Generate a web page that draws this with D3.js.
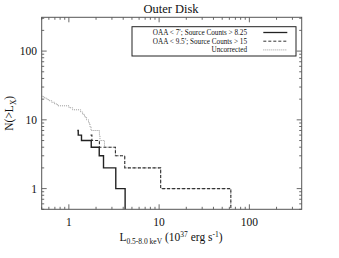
<!DOCTYPE html>
<html>
<head>
<meta charset="utf-8">
<script src="https://cdn.jsdelivr.net/npm/d3@7"></script>
<style>
    body { margin: 0; background: #fff; }
    text { font-family: "Liberation Serif", "DejaVu Serif", serif; fill: #111; }
</style>
</head>
<body>
<svg id="chart" width="339" height="258"></svg>
<script>
// luminosity thresholds (10^37 erg/s) and cumulative counts N(>L)
const solidL = [1.24, 1.27, 1.38, 1.77, 2.17, 2.42, 3.31, 4.2];
const solidN = [7, 6, 5, 4, 3, 2, 1, 0];

const dashedL = [1.74, 1.8, 2.18, 3.28, 4.16, 10.4, 62.3];
const dashedN = [6, 5, 4, 3, 2, 1, 0];

const dottedL = [0.45, 0.525, 0.56, 0.597, 0.644, 0.695, 0.75, 1.005, 1.10, 1.35, 1.42, 1.49,
    1.57, 1.65, 1.71, 1.76, 2.18, 2.21, 2.48, 3.28, 4.16, 10.4, 62.3];
const dottedN = [22, 21, 20, 19, 18, 17, 16, 15, 14, 13, 12, 11, 10, 9, 8, 7, 6, 5, 4, 3, 2, 1, 0];

const legendLabels = ["OAA < 7\u2032; Source Counts > 8.25", "OAA < 9.5\u2032; Source Counts > 15", "Uncorrected"];
const xTicks = [1, 10, 100];
const yTicks = [1, 10, 100];

const xDomain = [0.5, 380];
const yDomain = [0.5, 310];

const plotLeft = 41.7, plotRight = 301.7, plotTop = 17.3, plotBottom = 209.3;

const svg = d3.select("#chart");

const x = d3.scaleLog().domain(xDomain).range([plotLeft, plotRight]);
const y = d3.scaleLog().domain(yDomain).range([plotBottom, plotTop]);

svg.append("defs").append("clipPath")
    .attr("id", "plotClip")
    .append("rect")
    .attr("x", plotLeft)
    .attr("y", plotTop)
    .attr("width", plotRight - plotLeft)
    .attr("height", plotBottom - plotTop);

// minor + major log ticks for all four sides
function minorTicks(domain) {
    const out = [];
    for (let dec = -1; dec <= 3; dec++) {
        for (let m = 1; m < 10; m++) {
            const v = m * Math.pow(10, dec);
            if (v >= domain[0] && v <= domain[1]) out.push(v);
        }
    }
    return out;
}

const xMinor = minorTicks(xDomain);
const yMinor = minorTicks(yDomain);
const tickG = svg.append("g").attr("stroke", "#444").attr("stroke-width", 0.8);

xMinor.forEach(function(v) {
    const len = xTicks.includes(v) ? 5 : 2.5;
    tickG.append("line").attr("x1", x(v)).attr("x2", x(v)).attr("y1", plotBottom).attr("y2", plotBottom - len);
    tickG.append("line").attr("x1", x(v)).attr("x2", x(v)).attr("y1", plotTop).attr("y2", plotTop + len);
});
yMinor.forEach(function(v) {
    const len = yTicks.includes(v) ? 5 : 2.5;
    tickG.append("line").attr("y1", y(v)).attr("y2", y(v)).attr("x1", plotLeft).attr("x2", plotLeft + len);
    tickG.append("line").attr("y1", y(v)).attr("y2", y(v)).attr("x1", plotRight).attr("x2", plotRight - len);
});

// tick labels
svg.append("g").selectAll("text")
    .data(xTicks)
    .join("text")
    .attr("x", d => x(d))
    .attr("y", 225.5)
    .attr("text-anchor", "middle")
    .attr("font-size", 11.5)
    .text(d => d);

svg.append("g").selectAll("text")
    .data(yTicks)
    .join("text")
    .attr("x", 37)
    .attr("y", d => y(d) + 4)
    .attr("text-anchor", "end")
    .attr("font-size", 11.5)
    .text(d => d);

// step curves
function toPoints(Ls, Ns) {
    return Ls.map((L, i) => ({ L: L, n: Ns[i] }));
}

const stepLine = d3.line()
    .x(d => x(d.L))
    .y(d => d.n > 0 ? y(d.n) : plotBottom + 2)
    .curve(d3.curveStepAfter);

const curves = svg.append("g").attr("clip-path", "url(#plotClip)").attr("fill", "none");

curves.append("path")
    .attr("d", stepLine(toPoints(dottedL, dottedN)))
    .attr("stroke", "#999")
    .attr("stroke-width", 1)
    .attr("stroke-dasharray", "1,1");

curves.append("path")
    .attr("d", stepLine(toPoints(dashedL, dashedN)))
    .attr("stroke", "#333")
    .attr("stroke-width", 1.1)
    .attr("stroke-dasharray", "3,2");

curves.append("path")
    .attr("d", stepLine(toPoints(solidL, solidN)))
    .attr("stroke", "#222")
    .attr("stroke-width", 1.4);

// frame
svg.append("rect")
    .attr("x", plotLeft)
    .attr("y", plotTop)
    .attr("width", plotRight - plotLeft)
    .attr("height", plotBottom - plotTop)
    .attr("fill", "none")
    .attr("stroke", "#555")
    .attr("stroke-width", 1);

// legend
const legendG = svg.append("g");
legendG.append("rect")
    .attr("x", 132)
    .attr("y", 26.7)
    .attr("width", 164)
    .attr("height", 29.3)
    .attr("fill", "#fff")
    .attr("stroke", "#222")
    .attr("stroke-width", 1);

const legendStyles = [
    { stroke: "#222", dash: null, width: 1.3 },
    { stroke: "#333", dash: "3,2", width: 1 },
    { stroke: "#999", dash: "1,1", width: 1 }
];
legendLabels.forEach(function(label, i) {
    const rowY = 32.5 + i * 8.7;
    legendG.append("text")
        .attr("x", 247)
        .attr("y", rowY + 2.5)
        .attr("text-anchor", "end")
        .attr("font-size", 7.2)
        .text(label);
    legendG.append("line")
        .attr("x1", 263.3)
        .attr("x2", 287.3)
        .attr("y1", rowY)
        .attr("y2", rowY)
        .attr("stroke", legendStyles[i].stroke)
        .attr("stroke-width", legendStyles[i].width)
        .attr("stroke-dasharray", legendStyles[i].dash);
});

// title
svg.append("text")
    .attr("x", 171)
    .attr("y", 12.5)
    .attr("text-anchor", "middle")
    .attr("font-size", 12.5)
    .text("Outer Disk");

// x axis label
const xLabel = svg.append("text")
    .attr("x", 171)
    .attr("y", 241)
    .attr("text-anchor", "middle")
    .attr("font-size", 11.5);
xLabel.append("tspan").text("L");
xLabel.append("tspan").attr("font-size", 7.5).attr("dy", 2.5).text("0.5-8.0 keV");
xLabel.append("tspan").attr("dy", -2.5).text(" (10");
xLabel.append("tspan").attr("font-size", 7.5).attr("dy", -4).text("37");
xLabel.append("tspan").attr("dy", 4).text(" erg s");
xLabel.append("tspan").attr("font-size", 7.5).attr("dy", -4).text("-1");
xLabel.append("tspan").attr("dy", 4).text(")");

// y axis label
const yLabel = svg.append("text")
    .attr("transform", `translate(${13},${(plotTop + plotBottom) / 2}) rotate(-90)`)
    .attr("text-anchor", "middle")
    .attr("font-size", 11.5);
yLabel.append("tspan").text("N(>L");
yLabel.append("tspan").attr("font-size", 7.5).attr("dy", 2.5).text("X");
yLabel.append("tspan").attr("dy", -2.5).text(")");
</script>
</body>
</html>
